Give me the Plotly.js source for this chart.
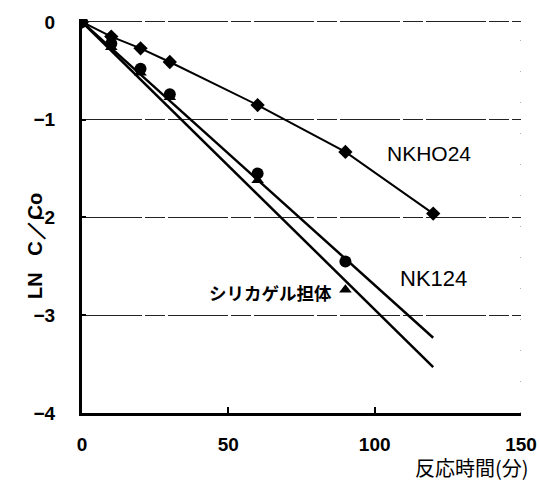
<!DOCTYPE html>
<html>
<head>
<meta charset="utf-8">
<script src="https://cdn.plot.ly/plotly-3.0.1.min.js"></script>
<style>html,body{margin:0;padding:0;background:#fff;}#chart{width:539px;height:482px;}</style>
</head>
<body>
<div id="chart"></div>
<script>
// Reaction time (min)
const timeMin = [0, 10, 20, 30, 60, 90, 120];
const timeMinShort = [0, 10, 20, 30, 60, 90];
// ln(C/Co) measured values
const nkho24 = [0, -0.15, -0.27, -0.41, -0.85, -1.33, -1.96];
const nk124 = [0, -0.22, -0.48, -0.74, -1.55, -2.45];
const silica = [0, -0.26, -0.52, -0.77, -1.62, -2.74];
// fitted straight lines
const fitX = [0, 120];
const nk124Fit = [0, -3.23];
const silicaFit = [0, -3.53];
// labels
const xTicks = [0, 50, 100, 150];
const yTicks = [0, -1, -2, -3, -4];
const seriesLabels = ['NKHO24', 'NK124', 'シリカゲル担体'];
const xTitle = '反応時間(分)';
const yTitle = 'LN&nbsp;&nbsp;&nbsp;C&#8202;／Co';

const black = '#000';
const traces = [
  {x: fitX, y: silicaFit, mode: 'lines', line: {color: black, width: 2.5}, hoverinfo: 'skip'},
  {x: fitX, y: nk124Fit, mode: 'lines', line: {color: black, width: 2.5}, hoverinfo: 'skip'},
  {x: timeMin, y: nkho24, mode: 'lines+markers', line: {color: black, width: 2},
   marker: {symbol: 'diamond', size: 11, color: black}},
  {x: timeMinShort, y: silica, mode: 'markers', marker: {symbol: 'triangle-up', size: 11, color: black}},
  {x: timeMinShort, y: nk124, mode: 'markers', marker: {symbol: 'circle', size: 12, color: black}}
];

const layout = {
  width: 539, height: 482,
  margin: {l: 82, r: 18, t: 19, b: 69},
  paper_bgcolor: '#fff', plot_bgcolor: '#fff',
  showlegend: false,
  font: {family: 'Liberation Sans, Arial, sans-serif', color: black},
  xaxis: {
    range: [0, 150], tickvals: xTicks, ticktext: xTicks.map(String),
    showgrid: false, zeroline: false,
    showline: true, linecolor: black, linewidth: 3,
    ticks: 'inside', ticklen: 6, tickwidth: 2, tickcolor: black,
    tickfont: {size: 19, weight: 'bold'}, ticklabelstandoff: 12
  },
  yaxis: {
    range: [-4, 0.03], tickvals: yTicks,
    showgrid: true, gridcolor: '#222', gridwidth: 1, griddash: '60px,3px,20px,3px',
    zeroline: false,
    showline: true, linecolor: black, linewidth: 3,
    ticks: 'inside', ticklen: 4, tickwidth: 2, tickcolor: black,
    tickfont: {size: 19, weight: 'bold'}, ticklabelstandoff: 20
  },
  shapes: [
    {type: 'line', xref: 'x', yref: 'y', x0: 150, x1: 150, y0: -4, y1: 0.03,
     line: {color: '#666', width: 1, dash: '1px,30px'}}
  ],
  annotations: [
    {x: 103.5, y: -1.35, xref: 'x', yref: 'y', text: seriesLabels[0], showarrow: false,
     xanchor: 'left', font: {size: 21}},
    {x: 108, y: -2.62, xref: 'x', yref: 'y', text: seriesLabels[1], showarrow: false,
     xanchor: 'left', font: {size: 22}},
    {x: 86, y: -2.77, xref: 'x', yref: 'y', text: seriesLabels[2], showarrow: false,
     xanchor: 'right', font: {size: 17.5, family: 'Noto Sans CJK JP', weight: 'bold'}},
    {x: 1.02, y: -0.138, xref: 'paper', yref: 'paper', text: xTitle, showarrow: false,
     xanchor: 'right', yanchor: 'middle', borderpad: 0,
     font: {size: 20, family: 'Noto Sans CJK JP'}},
    {x: 22, y: 246, xref: 'paper', yref: 'paper', text: yTitle, showarrow: false,
     textangle: -90, font: {size: 20, weight: 'bold'}}
  ]
};
// y-title placed in pixel terms converted to paper coordinates
const plotW = 539 - 82 - 18, plotH = 482 - 19 - 69;
layout.annotations[4].x = (22 - 82) / plotW;
layout.annotations[4].y = (482 - 69 - 246) / plotH;

Plotly.newPlot('chart', traces, layout, {displayModeBar: false, staticPlot: true});
</script>
</body>
</html>
